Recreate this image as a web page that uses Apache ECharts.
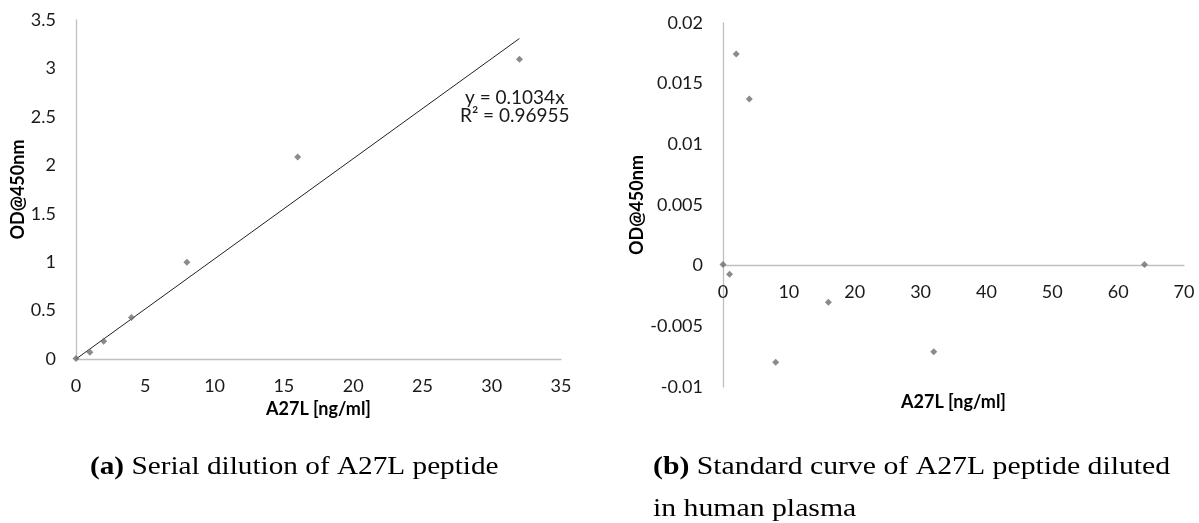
<!DOCTYPE html>
<html>
<head>
<meta charset="utf-8">
<script src="https://cdn.jsdelivr.net/npm/echarts@6/dist/echarts.min.js"></script>
<style>
html,body{margin:0;padding:0;background:#fff;}
#chart{width:1199px;height:523px;}
</style>
</head>
<body>
<div id="chart"></div>
<script>
// Panel (a): serial dilution
const concA = [0, 1, 2, 4, 8, 16, 32];
const odA = [0.005, 0.069, 0.183, 0.428, 0.998, 2.085, 3.095];
const slopeA = 0.1034;
const r2A = 0.96955;
const trendX = [0, 32];

// Panel (b): diluted in human plasma
const concB = [0, 1, 2, 4, 8, 16, 32, 64];
const odB = [0.0001, -0.0007, 0.01745, 0.01373, -0.00795, -0.00302, -0.0071, 0.0001];

const xTicksA = {min: 0, max: 35, interval: 5};
const yTicksA = {min: 0, max: 3.5, interval: 0.5};
const xTicksB = {min: 0, max: 70, interval: 10};
const yTicksB = {min: -0.01, max: 0.02, interval: 0.005};

const captionA = ['(a)', ' Serial dilution of A27L peptide'];
const captionB1 = ['(b)', ' Standard curve of A27L peptide diluted'];
const captionB2 = 'in human plasma';
const xName = 'A27L [ng/ml]';
const yName = 'OD@450nm';

const sans = 'Lato';
const serif = '"Liberation Serif"';
const axisColor = '#bfbfbf';
const markerColor = '#6e6e6e';
const labelColor = '#1a1a1a';

const fmt = v => String(+v.toFixed(6));
const labelStyle = (margin, show) => ({show: show !== false, color: labelColor, fontFamily: sans, fontSize: 18, margin: margin, formatter: fmt});
const nameStyle = {color: '#000', fontFamily: sans, fontSize: 18, fontWeight: 'bold'};
const lineStyle = {color: axisColor, width: 1.3};

function axis(extra) {
  return Object.assign({
    type: 'value',
    splitLine: {show: false},
    axisTick: {show: false},
    axisLine: {show: true, onZero: false, lineStyle: lineStyle},
    nameTextStyle: nameStyle,
    nameLocation: 'middle'
  }, extra);
}

// grid (b) geometry: zero line position derived from the y range
const gridB = {left: 723, top: 23, width: 461, height: 364};
const zeroFracB = yTicksB.max / (yTicksB.max - yTicksB.min);

const chart = echarts.init(document.getElementById('chart'), null, {renderer: 'canvas'});

chart.setOption({
  animation: false,
  backgroundColor: '#fff',
  grid: [
    {left: 76, top: 20, width: 485, height: 339},
    gridB,
    // axis strip for panel (b): its bottom edge is the y = 0 line of gridB
    {left: gridB.left, top: gridB.top, width: gridB.width, height: gridB.height * zeroFracB}
  ],
  xAxis: [
    axis(Object.assign({gridIndex: 0, name: xName, nameGap: 18, axisLabel: labelStyle(18)}, xTicksA)),
    axis(Object.assign({gridIndex: 1, name: xName, nameGap: 6, axisLine: {show: false}, axisLabel: {show: false}}, xTicksB)),
    axis(Object.assign({gridIndex: 2, axisLabel: labelStyle(18)}, xTicksB))
  ],
  yAxis: [
    axis(Object.assign({gridIndex: 0, name: yName, nameGap: 48, axisLabel: labelStyle(20)}, yTicksA)),
    axis(Object.assign({gridIndex: 1, name: yName, nameGap: 68, axisLabel: labelStyle(20)}, yTicksB)),
    axis({gridIndex: 2, show: false, min: 0, max: yTicksB.max})
  ],
  series: [
    {
      type: 'line', xAxisIndex: 0, yAxisIndex: 0, silent: true,
      data: trendX.map(x => [x, slopeA * x]),
      symbol: 'none', lineStyle: {color: '#222', width: 1}, z: 1
    },
    {
      type: 'scatter', xAxisIndex: 0, yAxisIndex: 0,
      data: concA.map((c, i) => [c, odA[i]]),
      symbol: 'diamond', symbolSize: 7, itemStyle: {color: markerColor}, z: 2
    },
    {
      type: 'scatter', xAxisIndex: 1, yAxisIndex: 1,
      data: concB.map((c, i) => [c, odB[i]]),
      symbol: 'diamond', symbolSize: 7, itemStyle: {color: markerColor}, z: 3
    }
  ],
  graphic: [
    {type: 'text', x: 465, y: 88, style: {text: 'y = ' + slopeA + 'x', font: '19px Lato', fill: labelColor}},
    {type: 'text', x: 460, y: 106, style: {text: 'R² = ' + r2A, font: '19px Lato', fill: labelColor}},
    {type: 'text', x: 90, y: 455, scaleX: 1.17, style: {
      text: '{b|' + captionA[0] + '}{n|' + captionA[1] + '}',
      rich: {b: {font: 'bold 25px ' + serif, fill: '#000'}, n: {font: '25px ' + serif, fill: '#000'}}
    }},
    {type: 'text', x: 653, y: 455, scaleX: 1.19, style: {
      text: '{b|' + captionB1[0] + '}{n|' + captionB1[1] + '}',
      rich: {b: {font: 'bold 25px ' + serif, fill: '#000'}, n: {font: '25px ' + serif, fill: '#000'}}
    }},
    {type: 'text', x: 653, y: 497, scaleX: 1.19, style: {text: captionB2, font: '25px ' + serif, fill: '#000'}}
  ]
});
</script>
</body>
</html>
